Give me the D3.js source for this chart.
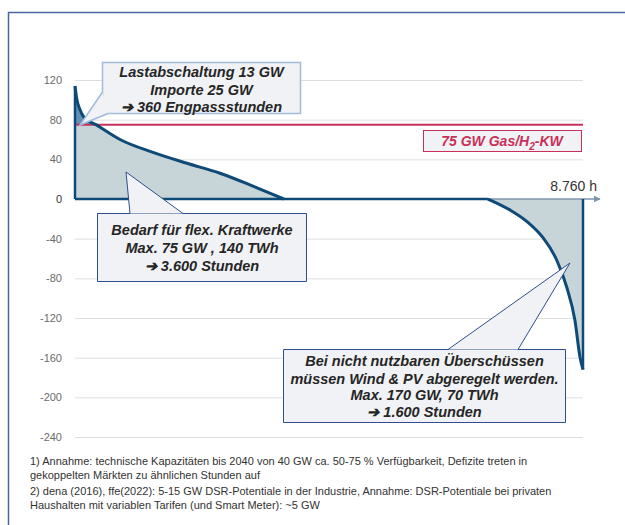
<!DOCTYPE html>
<html>
<head>
<meta charset="utf-8">
<script src="https://cdn.jsdelivr.net/npm/d3@7"></script>
<style>
  body { margin: 0; background: #fff; font-family: "Liberation Sans", Arial, sans-serif; }
  svg { display: block; }
</style>
</head>
<body>
<div id="chart"></div>
<script>
// residual load duration curve, hours sorted by load (GW)
const hours = [0, 30, 80, 160, 360, 776, 1345, 1931, 2500, 3069, 3400, 3600, 7120, 7500, 7800, 8070, 8310, 8480, 8620, 8710, 8760];
const loadGW = [114, 101, 91, 82, 75, 60, 47, 36, 26, 13, 5, 0, 0, -11, -23, -39, -62, -89, -122, -160, -172];
const yTicks = [120, 80, 40, 0, -40, -80, -120, -160, -200, -240];
const gasCapacity = 75;
const totalHours = 8760;

const calloutImport = ["Lastabschaltung 13 GW", "Importe 25 GW", "\u2794 360 Engpassstunden"];
const calloutDemand = ["Bedarf f\u00fcr flex. Kraftwerke", "Max. 75 GW , 140 TWh", "\u2794 3.600 Stunden"];
const calloutSurplus = ["Bei nicht nutzbaren \u00dcberschüssen", "m\u00fcssen Wind & PV abgeregelt werden.", "Max. 170 GW, 70 TWh", "\u2794 1.600 Stunden"];
const footnotes = [
    "1) Annahme: technische Kapazit\u00e4ten bis 2040 von 40 GW ca. 50-75 % Verf\u00fcgbarkeit, Defizite treten in",
    "gekoppelten M\u00e4rkten zu \u00e4hnlichen Stunden auf",
    "2) dena (2016), ffe(2022): 5-15 GW DSR-Potentiale in der Industrie, Annahme: DSR-Potentiale bei privaten",
    "Haushalten mit variablen Tarifen (und Smart Meter): ~5 GW"
];

const data = hours.map((h, i) => ({ h: h, v: loadGW[i] }));
// split into deficit part, flat part and surplus part so the spline keeps its corners
const deficit = data.filter(d => d.h <= 3600);
const surplus = data.filter(d => d.h >= 7120);

const width = 625, height = 525;
const svg = d3.select('#chart').append('svg')
    .attr('width', width)
    .attr('height', height);

// outer frame (top + left only)
svg.append('path')
    .attr('d', 'M625,12.5 H8.5 V525')
    .attr('fill', 'none')
    .attr('stroke', '#4a64a0')
    .attr('stroke-width', 1.5);

const x = d3.scaleLinear().domain([0, totalHours]).range([75, 583]);
const y = d3.scaleLinear().domain([-240, 120]).range([437, 80]);

// grid + tick labels
const yAxis = d3.axisLeft(y)
    .tickValues(yTicks)
    .tickSize(-(583 - 75))
    .tickPadding(13)
    .tickFormat(d => d);

const axisG = svg.append('g')
    .attr('transform', 'translate(75,0)')
    .call(yAxis);
axisG.select('.domain').remove();
axisG.selectAll('.tick line').attr('stroke', '#dedede').attr('stroke-width', 1);
axisG.selectAll('.tick text')
    .attr('fill', '#6b6b6b')
    .style('font-size', '11px')
    .style('font-family', '"Liberation Sans", Arial, sans-serif');
axisG.selectAll('.tick').filter(d => d === 0).select('text').attr('fill', '#333');

// arrow marker for the x axis
svg.append('defs').append('marker')
    .attr('id', 'arrow')
    .attr('viewBox', '0 0 10 10')
    .attr('refX', 9).attr('refY', 5)
    .attr('markerWidth', 7).attr('markerHeight', 7)
    .attr('markerUnits', 'userSpaceOnUse')
    .attr('orient', 'auto')
    .append('path')
    .attr('d', 'M0,0 L10,5 L0,10 z')
    .attr('fill', '#7f95ab');

// fills
const area = d3.area()
    .x(d => x(d.h))
    .y0(y(0))
    .y1(d => y(d.v))
    .curve(d3.curveMonotoneX);

[deficit, surplus].forEach(part => {
    svg.append('path')
        .datum(part)
        .attr('d', area)
        .attr('fill', '#c7d5d9');
});

svg.append('clipPath').attr('id', 'above')
    .append('rect')
    .attr('x', 0).attr('y', 0)
    .attr('width', width).attr('height', y(gasCapacity));

svg.append('path')
    .datum(deficit)
    .attr('d', area)
    .attr('clip-path', 'url(#above)')
    .attr('fill', '#6590b0');

// x axis line with arrow
svg.append('line')
    .attr('x1', x(0)).attr('x2', 600)
    .attr('y1', y(0)).attr('y2', y(0))
    .attr('stroke', '#7f95ab')
    .attr('stroke-width', 1.5)
    .attr('marker-end', 'url(#arrow)');

// gas power plant capacity
svg.append('line')
    .attr('x1', x(0)).attr('x2', x(totalHours))
    .attr('y1', y(gasCapacity)).attr('y2', y(gasCapacity))
    .attr('stroke', '#c8305a')
    .attr('stroke-width', 2);

// residual load curve
const line = d3.line()
    .x(d => x(d.h))
    .y(d => y(d.v))
    .curve(d3.curveMonotoneX);
const edge = d3.line().x(d => x(d.h)).y(d => y(d.v));

const curveColor = '#0e4a78';
[deficit, surplus].forEach(part => {
    svg.append('path')
        .datum(part)
        .attr('d', line)
        .attr('fill', 'none')
        .attr('stroke', curveColor)
        .attr('stroke-width', 3);
});

// edges: left vertical, zero baseline under deficit + flat part, right vertical
const first = data[0], last = data[data.length - 1];
svg.append('path')
    .attr('d', edge([{ h: 0, v: 0 }, first]) + edge([{ h: 0, v: 0 }, { h: 7120, v: 0 }]) + edge([{ h: totalHours, v: 0 }, last]))
    .attr('fill', 'none')
    .attr('stroke', curveColor)
    .attr('stroke-width', 2.5);

svg.append('text')
    .attr('x', 597).attr('y', 191)
    .attr('text-anchor', 'end')
    .attr('fill', '#333')
    .style('font-size', '14px')
    .text('8.760 h');

// capacity label box
const capG = svg.append('g');
capG.append('rect')
    .attr('x', 423.5).attr('y', 130.5)
    .attr('width', 158).attr('height', 21)
    .attr('fill', '#f1f2f5')
    .attr('stroke', '#c8305a')
    .attr('stroke-width', 1);
const capText = capG.append('text')
    .attr('x', 502).attr('y', 146)
    .attr('text-anchor', 'middle')
    .attr('fill', '#c8305a')
    .style('font-size', '14px')
    .style('font-weight', 'bold')
    .style('font-style', 'italic');
capText.append('tspan').text('75 GW Gas/H');
capText.append('tspan').attr('dy', 4).style('font-size', '10px').text('2');
capText.append('tspan').attr('dy', -4).text('-KW');

// callouts: box plus a wedge-shaped tail
function callout(box, tail, lines, lineY, stroke, strokeWidth) {
    const g = svg.append('g');
    const [x0, y0, x1, y1] = box;
    g.append('path')
        .attr('d', `M${x0},${y0} H${x1} V${y1} H${x0} Z`)
        .attr('fill', '#f1f2f5')
        .attr('stroke', stroke)
        .attr('stroke-width', strokeWidth);
    g.append('path')
        .attr('d', `M${tail[0][0]},${tail[0][1]} L${tail[1][0]},${tail[1][1]} L${tail[2][0]},${tail[2][1]}`)
        .attr('fill', '#f1f2f5')
        .attr('stroke', stroke)
        .attr('stroke-width', strokeWidth);
    g.selectAll('text.l')
        .data(lines)
        .enter()
        .append('text')
        .attr('class', 'l')
        .attr('x', (x0 + x1) / 2)
        .attr('y', (d, i) => lineY[i])
        .attr('text-anchor', 'middle')
        .attr('fill', '#262626')
        .style('font-size', '14.5px')
        .style('font-weight', 'bold')
        .style('font-style', 'italic')
        .text(d => d);
    return g;
}

callout([102.5, 62.5, 300.5, 113.5], [[102.5, 92], [80, 125], [108, 113.5]],
    calloutImport, [77, 95, 112], '#9fbcdc', 1.5);
callout([97.5, 213.5, 306.5, 281.5], [[130, 213.5], [126, 172], [183, 213.5]],
    calloutDemand, [235, 253, 271], '#2f4f8c', 1);
callout([283.5, 349.5, 565.5, 422.5], [[448, 349.5], [570, 263], [518, 349.5]],
    calloutSurplus, [366, 384, 400, 417], '#2f4f8c', 1);

// footnotes
svg.append('g')
    .selectAll('text')
    .data(footnotes)
    .enter()
    .append('text')
    .attr('x', 30)
    .attr('y', (d, i) => [465, 479, 495, 509][i])
    .attr('fill', '#333')
    .style('font-size', '11px')
    .text(d => d);
</script>
</body>
</html>
